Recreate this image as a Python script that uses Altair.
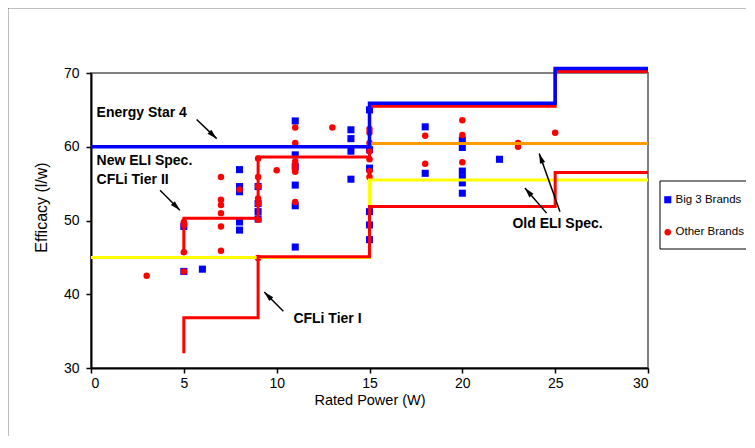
import math
import altair as alt
import pandas as pd

# ---------------- data ----------------
big3_power = [5, 5, 6, 8, 8, 8, 8, 8, 9, 9, 9, 9, 11, 11, 11, 11, 11, 11,
              14, 14, 14, 14, 15, 15, 15, 15, 15, 15, 18, 18,
              20, 20, 20, 20, 20, 20, 22]
big3_eff = [43.1, 49.2, 43.4, 56.9, 54.6, 53.9, 49.8, 48.7, 54.6, 52.3, 51.2, 50.2,
            63.5, 58.9, 57.3, 54.8, 52.0, 46.4,
            62.3, 61.1, 59.4, 55.6, 65.0, 59.6, 57.1, 51.2, 49.4, 47.4, 62.7, 56.4,
            60.9, 59.9, 56.7, 55.8, 55.1, 53.7, 58.3]

other_power = [3, 5, 5, 5, 5, 7, 7, 7, 7, 7, 7, 8, 9, 9, 9, 9, 9, 9, 9, 10,
               11, 11, 11, 11, 11, 11, 11, 13, 15, 15, 15, 15, 15, 15, 15,
               18, 18, 20, 20, 20, 23, 23, 25]
other_eff = [42.5, 49.8, 49.4, 45.7, 43.1, 55.9, 52.8, 52.1, 51.0, 49.2, 45.9, 54.2,
             58.4, 55.9, 54.6, 53.0, 52.3, 50.1, 44.9, 56.8,
             62.6, 60.5, 58.0, 57.5, 57.0, 56.6, 52.5, 62.6,
             62.4, 61.9, 60.5, 59.4, 58.3, 56.7, 55.9,
             61.5, 57.7, 63.6, 61.6, 57.9, 60.5, 60.0, 61.9]

brands = ["Big 3 Brands", "Other Brands"]

# limit lines (step functions)
energy_star_x = [0, 15, 15, 25, 25, 30]
energy_star_y = [60, 60, 65.9, 65.9, 70.6, 70.6]
tier2_x = [5, 5, 9, 9, 15, 15, 25, 25, 30]
tier2_y = [45.5, 50.3, 50.3, 58.6, 58.6, 65.5, 65.5, 70.2, 70.2]
tier1_x = [5, 5, 9, 9, 15, 15, 25, 25, 30]
tier1_y = [32.0, 36.8, 36.8, 45.1, 45.1, 51.9, 51.9, 56.5, 56.5]
old_eli_low_x = [0, 15, 15, 30]
old_eli_low_y = [45, 45, 55.5, 55.5]
old_eli_high_x = [15, 30]
old_eli_high_y = [60.45, 60.45]

# annotations
label_text = ["Energy Star 4", "New ELI Spec.", "CFLi Tier II", "CFLi Tier I", "Old ELI Spec."]
label_x = [0.3, 0.3, 0.3, 10.9, 22.7]
label_y = [64.6, 58.1, 55.5, 36.6, 49.5]

arrow_x0 = [5.69, 3.72, 10.36, 25.26, 24.54]
arrow_y0 = [63.7, 54.1, 37.7, 51.2, 51.0]
arrow_x1 = [6.77, 4.79, 9.33, 24.14, 23.37]
arrow_y1 = [61.1, 51.4, 40.3, 59.1, 54.4]

# ---------------- layout ----------------
W, H = 557, 295
XDOM, YDOM = [0, 30], [30, 70]
sx = W / (XDOM[1] - XDOM[0])
sy = H / (YDOM[1] - YDOM[0])

pts = pd.DataFrame({
    "power": big3_power + other_power,
    "eff": big3_eff + other_eff,
    "brand": [brands[0]] * len(big3_power) + [brands[1]] * len(other_power),
})

xs = alt.Scale(domain=XDOM, nice=False, zero=False)
ys = alt.Scale(domain=YDOM, nice=False, zero=False)

x_axis = alt.Axis(values=list(range(0, 31, 5)), title="Rated Power (W)",
                  titleY=32, titleBaseline="middle", titleFontSize=14.5, labelPadding=3)
y_axis = alt.Axis(values=list(range(30, 71, 5)), title="Efficacy (l/w)",
                  titleX=-50, titleY=134, titleBaseline="middle", titleAlign="center",
                  titleAngle=270, labelPadding=7)

# outer border + legend box
frame = alt.Chart(pd.DataFrame({"a": [0]})).mark_rect(
    fillOpacity=0, stroke="black", strokeWidth=2.5
).encode(x=alt.value(-84), x2=alt.value(720), y=alt.value(-66), y2=alt.value(440))

legend_box = alt.Chart(pd.DataFrame({"a": [0]})).mark_rect(
    fill="white", stroke="black", strokeWidth=1
).encode(x=alt.value(569), x2=alt.value(720), y=alt.value(108), y2=alt.value(176))

points = alt.Chart(pts).mark_point(filled=True, opacity=1).encode(
    x=alt.X("power:Q", scale=xs, axis=x_axis),
    y=alt.Y("eff:Q", scale=ys, axis=y_axis),
    color=alt.Color("brand:N", scale=alt.Scale(domain=brands, range=["#0000FF", "#FF0000"]),
                    legend=alt.Legend(title=None, orient="none", legendX=571, legendY=121,
                                      labelFont="Liberation Sans", labelFontSize=11.5,
                                      labelColor="black", rowPadding=19.5, symbolSize=60,
                                      labelOffset=2, padding=0)),
    shape=alt.Shape("brand:N", scale=alt.Scale(domain=brands, range=["square", "circle"]),
                    legend=None),
    size=alt.Size("brand:N", scale=alt.Scale(domain=brands, range=[50, 42]), legend=None),
)

def step_line(xv, yv, color, width):
    df = pd.DataFrame({"x": xv, "y": yv, "o": list(range(len(xv)))})
    return alt.Chart(df).mark_line(color=color, strokeWidth=width).encode(
        x=alt.X("x:Q", scale=xs), y=alt.Y("y:Q", scale=ys), order="o:Q")

lines = [
    step_line(old_eli_low_x, old_eli_low_y, "#FFFF00", 3),
    step_line(old_eli_high_x, old_eli_high_y, "#FF9900", 3),
    step_line(tier1_x, tier1_y, "#FF0000", 3),
    step_line(tier2_x, tier2_y, "#FF0000", 3),
    step_line(energy_star_x, energy_star_y, "#0000FF", 3.5),
]

labels = alt.Chart(pd.DataFrame({"t": label_text, "x": label_x, "y": label_y})).mark_text(
    align="left", baseline="middle", font="Liberation Sans", fontWeight="bold",
    fontSize=14, color="black"
).encode(x=alt.X("x:Q", scale=xs), y=alt.Y("y:Q", scale=ys), text="t:N")

# arrows
heads_x, heads_y, heads_a = [], [], []
for x0, y0, x1, y1 in zip(arrow_x0, arrow_y0, arrow_x1, arrow_y1):
    dx = (x1 - x0) * sx
    dy = -(y1 - y0) * sy
    L = math.hypot(dx, dy)
    ang = math.degrees(math.atan2(dx, -dy)) % 360
    back = 5.0
    heads_x.append(x1 - (dx / L) * back / sx)
    heads_y.append(y1 + (dy / L) * back / sy)
    heads_a.append(ang)

arrow_df = pd.DataFrame({"x0": arrow_x0, "y0": arrow_y0, "x1": arrow_x1, "y1": arrow_y1})
shafts = alt.Chart(arrow_df).mark_rule(color="black", strokeWidth=1.5).encode(
    x=alt.X("x0:Q", scale=xs), y=alt.Y("y0:Q", scale=ys), x2="x1:Q", y2="y1:Q")

head_df = pd.DataFrame({"x": heads_x, "y": heads_y, "a": heads_a})
heads = alt.Chart(head_df).mark_point(
    shape="M0,-1L0.55,1L-0.55,1Z", filled=True, color="black", size=100, opacity=1
).encode(x=alt.X("x:Q", scale=xs), y=alt.Y("y:Q", scale=ys),
         angle=alt.Angle("a:Q", scale=None))

chart = alt.layer(frame, legend_box, points, *lines, shafts, heads, labels).properties(
    width=W, height=H,
    autosize="none",
    background="white",
    padding={"left": 83, "top": 65, "right": 98, "bottom": 68},
).configure_view(
    stroke="#808080", strokeWidth=2
).configure_axis(
    grid=False, domainColor="black", domainWidth=2, tickColor="black", tickWidth=1.5,
    tickSize=5, labelFont="Liberation Sans", labelFontSize=14, labelColor="black",
    titleFont="Liberation Sans", titleFontSize=16, titleFontWeight="normal",
    titleColor="black", labelPadding=5, zindex=1
)

chart.save("out.html", embed_options={"renderer": "svg", "actions": False})
